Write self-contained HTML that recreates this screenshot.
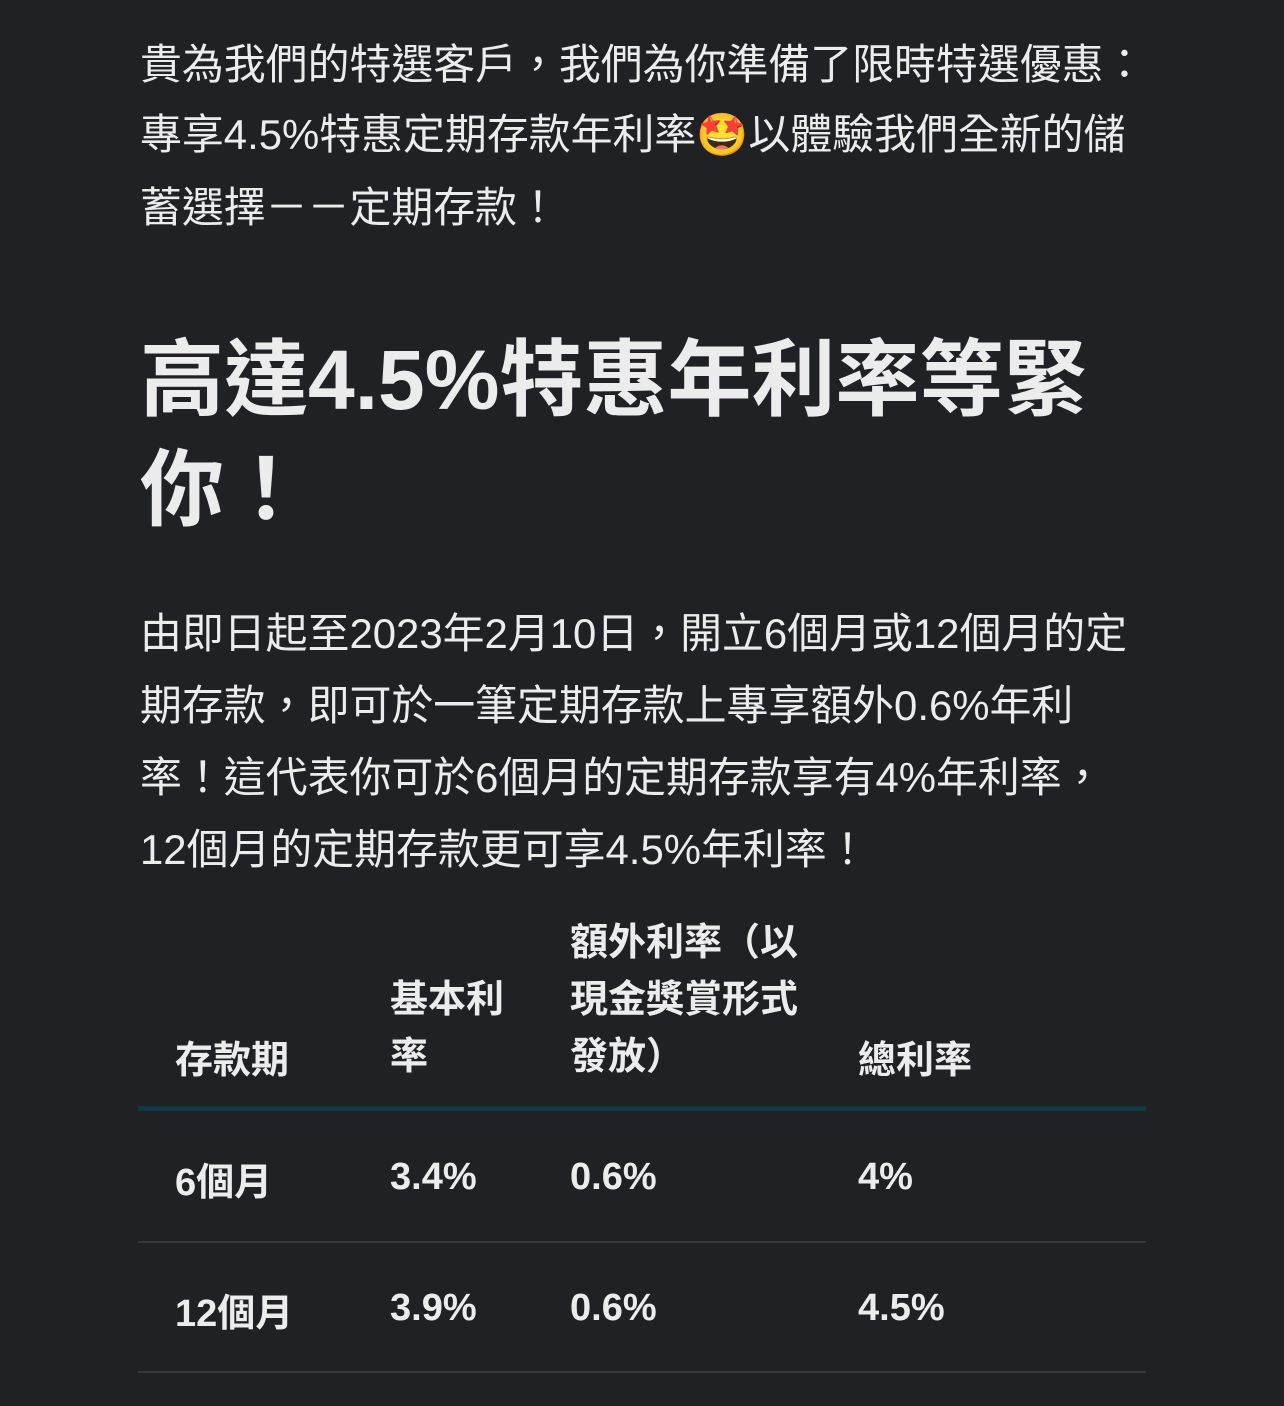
<!DOCTYPE html>
<html><head><meta charset="utf-8"><style>
html,body{margin:0;padding:0;background:#202125;width:1284px;height:1406px;overflow:hidden}
body{position:relative;color:#ececec;font-family:"Liberation Sans","Noto Sans CJK TC",sans-serif}
.p{position:absolute;left:140px;font-size:41.9px;white-space:nowrap}
.h{position:absolute;left:140px;font-size:84px;font-weight:bold;white-space:nowrap;line-height:110px;top:325px}
.c{position:absolute;font-size:38px;font-weight:bold;white-space:nowrap}
.hl{position:absolute;left:138px;width:1008px}
.cj{font-family:"Noto Sans CJK TC",sans-serif}
</style></head><body>
<div class="p" style="top:30px;line-height:70px">貴為我們的特選客戶，我們為你準備了限時特選優惠：<br>專享4.5%特惠定期存款年利率🤩以體驗我們全新的儲<br>蓄選擇<span class="cj">－－</span>定期存款！</div>
<div class="h">高達4.5%特惠年利率等緊<br>你！</div>
<div class="p" style="top:598px;line-height:72px;font-size:41.9px">由即日起至2023年2月10日，開立6個月或12個月的定<br>期存款，即可於一筆定期存款上專享額外0.6%年利<br>率！這代表你可於6個月的定期存款享有4%年利率，<br>12個月的定期存款更可享4.5%年利率！</div>
<div>
<div class="c" style="left:175px;top:1029px">存款期</div>
<div class="c" style="left:390px;top:915px;line-height:57px"><br>基本利<br>率</div>
<div class="c" style="left:570px;top:915px;line-height:57px">額外利率（以<br>現金獎賞形式<br>發放）</div>
<div class="c" style="left:858px;top:1029px">總利率</div>
<div class="hl" style="top:1106px;height:5px;background:#0f3a44"></div>
<div class="c" style="left:175px;top:1151px">6個月</div>
<div class="c" style="left:390px;top:1156px">3.4%</div>
<div class="c" style="left:570px;top:1156px">0.6%</div>
<div class="c" style="left:858px;top:1156px">4%</div>
<div class="hl" style="top:1241px;height:2px;background:#38393d"></div>
<div class="c" style="left:175px;top:1282px">12個月</div>
<div class="c" style="left:390px;top:1287px">3.9%</div>
<div class="c" style="left:570px;top:1287px">0.6%</div>
<div class="c" style="left:858px;top:1287px">4.5%</div>
<div class="hl" style="top:1371px;height:2px;background:#38393d"></div>
</div>
</body></html>
